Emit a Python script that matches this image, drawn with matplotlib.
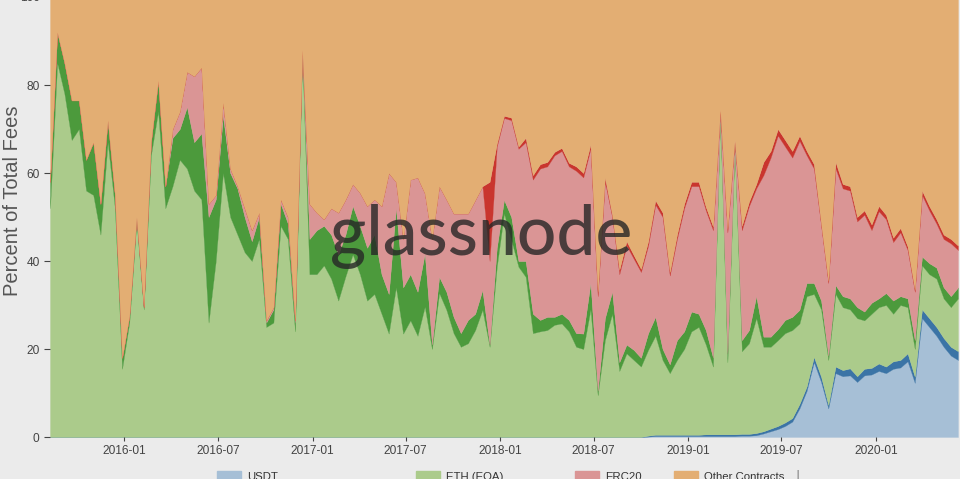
import matplotlib.pyplot as plt
import matplotlib.dates as mdates
import pandas as pd
from matplotlib.patches import Patch

# fortnightly samples, Aug 2015 -> Jun 2020
dates = pd.date_range('2015-08-10', periods=127, freq='14D')

# cumulative tops of each band, in percent
eth_top = [
    52, 85, 78, 67.5, 70, 56, 55, 46, 67, 52,
    15.5, 26, 49, 29, 64, 74, 52, 57, 63, 61,
    56, 54, 26, 40, 60, 50, 46, 42, 40, 45,
    25, 26, 48, 45, 24, 87, 37, 37, 39, 36,
    31, 36.5, 41.5, 37, 31, 32.5, 28, 23.5, 34, 23.5,
    26.5, 23, 29.6, 20, 32.7, 28.9, 23.6, 20.5, 21.3, 24.3,
    28.9, 20.5, 38.7, 50.8, 44.8, 38.7, 36.4, 23.6, 24, 24.3,
    25.5, 25.8, 24, 20.5, 20, 29, 9.5, 22, 28, 15,
    19, 17.5, 16, 19.8, 23, 17.5, 14.5, 17.5, 20, 24,
    25, 21, 16, 73, 17, 66, 19.5, 21.3, 27, 20.5,
    20.5, 22, 23.6, 24.3, 25.8, 32, 32.5, 29, 17.5, 32.5,
    29.5, 29, 27, 26.5, 28, 29.5, 30, 28, 30, 29.5,
    20, 39, 37, 36, 31.5, 29.5, 31.5,
]
eth_dark_top = [
    58, 92, 85, 76.5, 76.5, 63, 67, 53, 72, 55,
    18, 27.5, 50, 29.5, 67, 81, 57, 68, 70, 75,
    67, 69, 50, 54, 73, 60, 56.5, 50, 44.5, 50,
    26, 29, 53, 48.5, 26, 87.5, 45, 47, 48, 46,
    41.5, 46, 52.5, 48, 43, 46, 37, 32.5, 52, 34,
    37, 33, 41.7, 21, 36.4, 33, 27.3, 23.6, 26.6, 28,
    33.4, 21, 43, 53.9, 50, 40, 40, 28, 26.6, 27.3,
    27.3, 28, 26.6, 23.6, 23.5, 35, 10.5, 27, 33, 17,
    21, 19.8, 18, 23.6, 27.3, 20, 16.5, 22, 24, 28.5,
    28, 24.3, 18, 73.5, 19, 66.5, 22, 24.3, 32, 22.8,
    22.8, 24.5, 26.6, 27.3, 28.9, 35, 35, 31, 18.5, 34.5,
    32, 31.5, 29.5, 28.5, 30.5, 31.5, 32.7, 31, 32, 31.5,
    22, 41, 39.5, 38.5, 34, 32, 34,
]
erc20_top = [
    58, 92, 85, 76.5, 76.5, 63, 67, 53, 72, 55,
    18, 27.5, 50, 29.5, 67, 81, 57, 70, 74, 83,
    82, 84, 53, 55, 76, 61, 57, 52, 47, 51,
    26.5, 29.5, 54, 50, 26.5, 88, 53, 51, 49.5, 52,
    51, 54, 57.5, 55.5, 52.5, 54, 52.5, 60, 58, 45,
    58.5, 59, 55.4, 45, 57, 54, 50.8, 50.8, 50.8, 53.9,
    57, 40, 66, 72.5, 72, 65.5, 67, 58.5, 61, 61.5,
    64, 65, 61.5, 60.5, 59, 65.5, 32, 58, 50, 37,
    43.5, 40.5, 37.5, 43.5, 52.8, 50, 36.7, 45, 52, 57,
    57, 51.5, 47, 74, 46.5, 67, 47, 52.5, 56.5, 59.5,
    63.5, 68.5, 66, 63.5, 67.3, 64, 61, 48, 35, 61,
    56.5, 56, 49, 50.5, 47, 51.3, 49.5, 44.3, 46.5, 42.5,
    33, 55, 51.5, 48.5, 45, 44, 42.5,
]
erc20_dark_top = erc20_top[:61] + [
    58, 66.7, 73, 72.6, 66, 68, 59.5, 62, 62.5,
    64.8, 65.7, 62.3, 61.5, 60, 66.5, 33, 59, 50.5, 38,
    44.5, 41.3, 38.2, 44.5, 53.8, 51, 37.5, 46, 53, 58,
    58, 52.3, 47.8, 74.5, 47.3, 67.5, 48, 53.5, 57.5, 62.5,
    65, 70, 67.5, 65, 68.5, 65, 62, 48.5, 35.5, 62.5,
    57.5, 57, 50, 51.5, 48.3, 52.5, 50.5, 45.3, 47.5, 43.3,
    33.5, 56, 52.5, 49.5, 46, 45, 43.5,
]
usdt_top = [0] * 83 + [
    0.1, 0.2, 0.2, 0.2, 0.2, 0.2, 0.2, 0.2, 0.2, 0.2,
    0.2, 0.2, 0.2, 0.3, 0.3, 0.4, 0.8, 1.3, 1.8, 2.5,
    3.5, 6.5, 10.5, 17, 12.5, 6.5, 14.5, 13.8, 14, 12.5,
    14, 14.2, 15, 14.5, 15.5, 15.8, 17.2, 12.3, 27, 25,
    23, 20.5, 18.5, 17.5,
]
usdt_dark_top = [0] * 83 + [
    0.3, 0.5, 0.5, 0.5, 0.5, 0.5, 0.5, 0.5, 0.6, 0.6,
    0.6, 0.6, 0.6, 0.7, 0.7, 0.9, 1.3, 1.9, 2.5, 3.3,
    4.3, 7.5, 11.5, 18.2, 13.7, 7.3, 16, 15.2, 15.6, 13.8,
    15.5, 15.7, 16.7, 16, 17.2, 17.5, 19, 13.7, 29, 27,
    25, 22.5, 20.5, 19.5,
]

labels = ['USDT', 'ETH (EOA)', 'ERC20', 'Other Contracts']
c_usdt, c_usdt_dk = '#a6bfd6', '#3b74a6'
c_eth, c_eth_dk = '#abcb8b', '#4c9a3c'
c_erc, c_erc_dk = '#da9595', '#c9352e'
c_other = '#e3ae73'

fig = plt.figure(figsize=(9.6, 4.79), dpi=100, facecolor='#ebebeb')
ax = fig.add_axes([50 / 960, 42 / 479, 908 / 960, 440 / 479])
ax.set_facecolor('#ebebeb')

zero = [0] * len(dates)
full = [100] * len(dates)
bands = [
    (zero, usdt_top, c_usdt),
    (usdt_top, usdt_dark_top, c_usdt_dk),
    (usdt_dark_top, eth_top, c_eth),
    (eth_top, eth_dark_top, c_eth_dk),
    (eth_dark_top, erc20_top, c_erc),
    (erc20_top, erc20_dark_top, c_erc_dk),
    (erc20_dark_top, full, c_other),
]
for lo, hi, col in bands:
    ax.fill_between(dates, lo, hi, color=col, lw=0.2, edgecolor=col)

ax.set_xlim(dates[0], dates[-1])
ax.set_ylim(0, 100)
ax.set_yticks([0, 20, 40, 60, 80, 100])
ax.xaxis.set_major_locator(mdates.MonthLocator(bymonth=[1, 7]))
ax.xaxis.set_major_formatter(mdates.DateFormatter('%Y-%m'))
for s in ax.spines.values():
    s.set_visible(False)
ax.tick_params(axis='both', labelsize=8.6, colors='#444444', length=4, width=0.8)
ax.tick_params(axis='x', length=3, pad=3)
for t in ax.get_xticklabels() + ax.get_yticklabels():
    t.set_family('Liberation Sans')

ax.set_ylabel('Percent of Total Fees', fontsize=14.5, color='#555555',
              family='Liberation Sans')
ax.yaxis.set_label_coords(-0.031, 0.536)

# watermark
ax.text(0.475, 0.455, 'glassnode', transform=ax.transAxes, ha='center', va='center',
        fontsize=50, color='#262626', alpha=0.8, family='Lato', weight='medium')

# legend, cut off at the bottom edge like the screenshot
cols = [c_usdt, c_eth, c_erc, c_other]
xs = [217, 416, 575, 674]
for lab, col, x in zip(labels, cols, xs):
    fig.legend(handles=[Patch(color=col, label=lab)], loc='center left',
               bbox_to_anchor=(x / 960, 2.5 / 479), frameon=False, borderpad=0,
               borderaxespad=0, handlelength=2.1, handleheight=0.9, handletextpad=0.55,
               prop={'family': 'Liberation Sans', 'size': 8.2}, labelcolor='#333333')
fig.text(795 / 960, 2.5 / 479, '|', fontsize=9, color='#777777', va='center')

plt.savefig('out.png', dpi=100, facecolor=fig.get_facecolor())
